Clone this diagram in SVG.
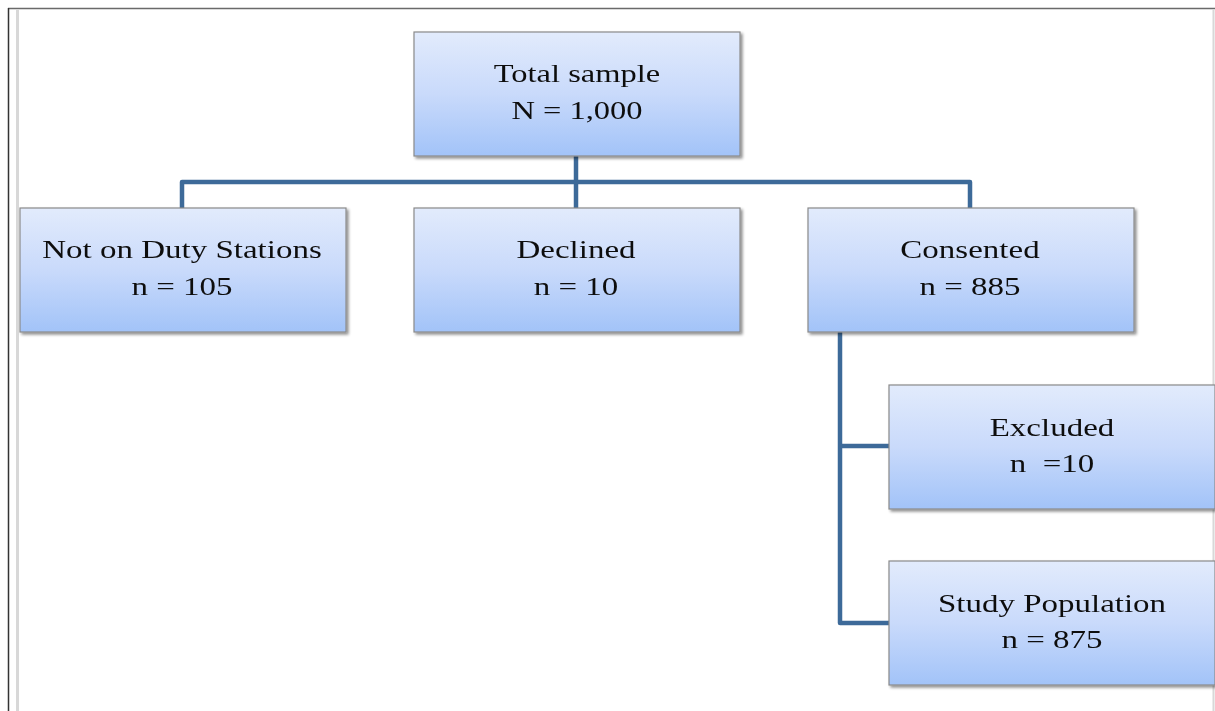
<svg xmlns="http://www.w3.org/2000/svg" width="1215" height="711" viewBox="0 0 1215 711">
<style>
.box{stroke:#8a8a8a;stroke-width:1.2;fill:url(#g)}
.t{font-family:"Liberation Serif","Times New Roman",serif;font-size:25px;fill:#111;text-anchor:middle}
.c{fill:none;stroke:#3d6a99;stroke-width:4.5;stroke-linejoin:round}
</style>
<defs>
<linearGradient id="g" x1="0" y1="0" x2="0" y2="1">
<stop offset="0" stop-color="#e2ebfc"/>
<stop offset="0.5" stop-color="#c9dafb"/>
<stop offset="1" stop-color="#a2c3f8"/>
</linearGradient>
<filter id="sh" x="-5%" y="-5%" width="115%" height="120%">
<feGaussianBlur in="SourceAlpha" stdDeviation="1.5"/>
<feOffset dx="1.5" dy="2" result="b"/>
<feComponentTransfer><feFuncA type="linear" slope="0.45"/></feComponentTransfer>
<feMerge><feMergeNode/><feMergeNode in="SourceGraphic"/></feMerge>
</filter>
</defs>
<rect width="1215" height="711" fill="#fff"/>
<g id="frame">
<line x1="8" y1="8.5" x2="1215" y2="8.5" stroke="#6a6a6a" stroke-width="1.5"/>
<line x1="8.5" y1="8" x2="8.5" y2="711" stroke="#333" stroke-width="1.5"/>
<line x1="17.5" y1="9" x2="17.5" y2="711" stroke="#d8d8d8" stroke-width="3"/>
<line x1="1213.5" y1="9" x2="1213.5" y2="711" stroke="#d8d8d8" stroke-width="2"/>
</g>
<g id="connectors">
<path class="c" d="M576 156 V208"/>
<path class="c" d="M182 208 V182 H970 V208"/>
<path class="c" d="M840 332 V623 H889"/>
<path class="c" d="M840 446 H889"/>
</g>
<g id="total" filter="url(#sh)">
<rect class="box" x="414" y="32" width="326" height="124"/>
<text class="t" transform="translate(577,82) scale(1.3,1)">Total sample</text>
<text class="t" transform="translate(577,119) scale(1.3,1)">N = 1,000</text>
</g>
<g id="notonduty" filter="url(#sh)">
<rect class="box" x="20" y="208" width="326" height="124"/>
<text class="t" transform="translate(182,258) scale(1.32,1)">Not on Duty Stations</text>
<text class="t" transform="translate(182,295) scale(1.32,1)">n = 105</text>
</g>
<g id="declined" filter="url(#sh)">
<rect class="box" x="414" y="208" width="326" height="124"/>
<text class="t" transform="translate(576,258) scale(1.32,1)">Declined</text>
<text class="t" transform="translate(576,295) scale(1.32,1)">n = 10</text>
</g>
<g id="consented" filter="url(#sh)">
<rect class="box" x="808" y="208" width="326" height="124"/>
<text class="t" transform="translate(970,258) scale(1.32,1)">Consented</text>
<text class="t" transform="translate(970,295) scale(1.32,1)">n = 885</text>
</g>
<g id="excluded" filter="url(#sh)">
<rect class="box" x="889" y="385" width="326" height="124"/>
<text class="t" transform="translate(1052,436) scale(1.32,1)" xml:space="preserve">Excluded</text>
<text class="t" transform="translate(1052,472) scale(1.32,1)" xml:space="preserve">n  =10</text>
</g>
<g id="study" filter="url(#sh)">
<rect class="box" x="889" y="561" width="326" height="124"/>
<text class="t" transform="translate(1052,612) scale(1.32,1)">Study Population</text>
<text class="t" transform="translate(1052,648) scale(1.32,1)">n = 875</text>
</g>
</svg>
